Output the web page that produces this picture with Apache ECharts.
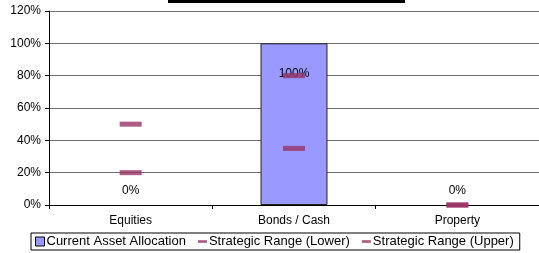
<!DOCTYPE html>
<html>
<head>
<meta charset="utf-8">
<script src="https://cdn.jsdelivr.net/npm/echarts@6/dist/echarts.min.js"></script>
<style>
  html, body { margin: 0; padding: 0; background: #fff; }
  #chart { width: 539px; height: 253px; }
</style>
</head>
<body>
<div id="chart"></div>
<script>
  // categories and values (percent)
  var categories = ['Equities', 'Bonds / Cash', 'Property']
  var currentAllocation = [0, 100, 0]
  var rangeLower = [20, 35, 0]
  var rangeUpper = [50, 80, 0]
  var yTicks = [0, 20, 40, 60, 80, 100, 120]

  var font = '"Liberation Sans", Arial, sans-serif'
  var rangeColor = '#993366'

  var myChart = echarts.init(document.getElementById('chart'))

  // label per bar: zero values sit above the axis, full bar label inside near top
  var barData = currentAllocation.map(function (v) {
    return {
      value: v,
      itemStyle: v > 0 ? {} : {borderWidth: 0},
      label: v > 0 ? {position: 'insideTop', distance: 24} : {position: 'top', distance: 8}
    }
  })

  var option = {
    animation: false,
    textStyle: {fontFamily: font},
    graphic: [
      {type: 'rect', shape: {x: 168, y: 0, width: 237, height: 3}, style: {fill: '#000'}}
    ],
    legend: {
      bottom: 3,
      left: 31,
      itemGap: 12,
      itemWidth: 9,
      itemHeight: 9,
      padding: [2, 6, 2, 4],
      borderColor: '#000',
      borderWidth: 1,
      textStyle: {fontSize: 13, color: '#000', fontFamily: font, padding: [0, 0, 0, -3]},
      data: [
        {name: 'Current Asset Allocation', icon: 'rect', itemStyle: {color: '#9999ff', borderColor: '#000', borderWidth: 1}},
        {name: 'Strategic Range (Lower)', icon: 'path://M0,3.5h10v3h-10z'},
        {name: 'Strategic Range (Upper)', icon: 'path://M0,3.5h10v3h-10z'}
      ]
    },
    grid: {left: 49, right: 0, top: 11, bottom: 48},
    xAxis: {
      type: 'category',
      data: categories,
      axisLine: {lineStyle: {color: '#000', width: 1}},
      axisTick: {show: true, length: 4, inside: false, lineStyle: {color: '#000'}},
      axisLabel: {color: '#000', fontSize: 12, fontFamily: font, margin: 10}
    },
    yAxis: {
      type: 'value',
      min: yTicks[0],
      max: yTicks[yTicks.length - 1],
      interval: 20,
      axisLine: {show: true, lineStyle: {color: '#000', width: 1}},
      axisTick: {show: true, length: 4, lineStyle: {color: '#000'}},
      axisLabel: {color: '#000', fontSize: 12, fontFamily: font, margin: 8, formatter: '{value}%'},
      splitLine: {lineStyle: {color: '#6e6e6e', width: 1}}
    },
    series: [
      {
        name: 'Current Asset Allocation',
        type: 'bar',
        barWidth: '41%',
        data: barData,
        itemStyle: {color: '#9999ff', borderColor: '#222', borderWidth: 1},
        label: {show: true, color: '#000', fontSize: 12, fontFamily: font, formatter: '{c}%'},
        z: 2
      },
      {
        name: 'Strategic Range (Lower)',
        type: 'scatter',
        data: rangeLower,
        symbol: 'rect',
        symbolSize: [22, 5],
        itemStyle: {color: rangeColor},
        z: 3
      },
      {
        name: 'Strategic Range (Upper)',
        type: 'scatter',
        data: rangeUpper,
        symbol: 'rect',
        symbolSize: [22, 5],
        itemStyle: {color: rangeColor},
        z: 3
      }
    ]
  }
  myChart.setOption(option, true)
</script>
</body>
</html>
